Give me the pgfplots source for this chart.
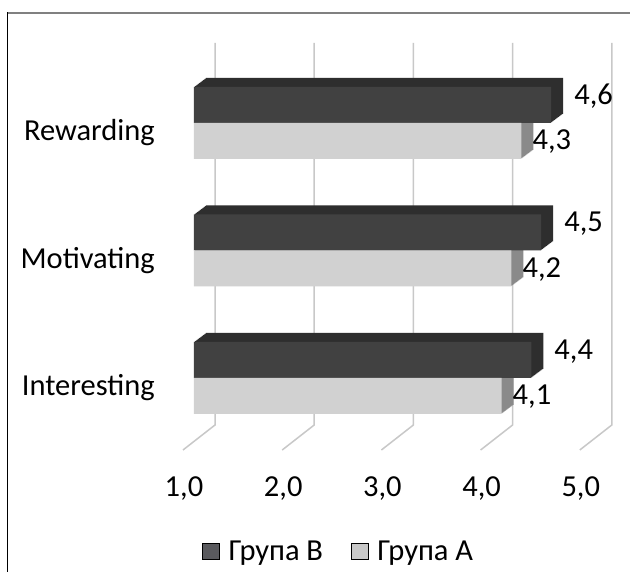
\documentclass[border=0pt]{standalone}
\usepackage{pgfplots}
\usepackage{pgfplotstable}
\pgfplotsset{compat=1.18}
\usepackage{fontspec}
\setmainfont{Carlito}
\definecolor{Bfront}{HTML}{414141}
\definecolor{Bside}{HTML}{2E2E2E}
\definecolor{Afront}{HTML}{D1D1D1}
\definecolor{Aside}{HTML}{8A8A8A}
\definecolor{gridc}{HTML}{C8C8C8}
\definecolor{legB}{HTML}{5A5A5E}
\definecolor{legA}{HTML}{C8C8C8}
\pgfplotstableread{
y v
0 4.4
1 4.5
2 4.6
}\dataB
\pgfplotstableread{
y v
0 4.1
1 4.2
2 4.3
}\dataA
\newcommand{\bigf}{\fontsize{30.5}{36}\selectfont}
\begin{document}
\begin{tikzpicture}
\useasboundingbox (0,0) rectangle (630pt,572pt);
\fill[white] (0,0) rectangle (630pt,572pt);
% frame
\draw[color={rgb,255:red,128;green,128;blue,128}, line width=1.3pt] (7pt,559pt) -- (630pt,559pt);
\draw[black, line width=1pt] (7pt,0pt) -- (7pt,559.6pt);
% back wall and floor grid
\foreach \i in {0,...,4}{
  \draw[gridc, line width=1.5pt] ({(215+99.2*\i)*1pt},529pt) -- ({(215+99.2*\i)*1pt},147pt) -- ({(183+99.2*\i)*1pt},122pt);
}
\begin{axis}[
  at={(194pt,147pt)}, anchor=south west,
  scale only axis, width=396.8pt, height=382pt,
  xmin=0, xmax=4, ymin=-0.369, ymax=2.627,
  clip=false,
  axis line style={draw=none}, tick style={draw=none}, major tick length=0pt,
  xtick={0,1,2,3,4}, xticklabels={{1,0},{2,0},{3,0},{4,0},{5,0}},
  ytick={0,1,2}, yticklabels={Interesting,Motivating,Rewarding},
  every tick label/.append style={font=\bigf},
  xticklabel style={anchor=base, inner sep=0pt, xshift=-10pt, yshift=-72pt},
  yticklabel style={anchor=base east, inner sep=0pt, xshift=-39pt, yshift=-18pt},
  xbar, bar width=36pt,
  /pgf/number format/assume math mode=true,
  legend image code/.code={\fill[#1] (0pt,-8pt) rectangle (17pt,8pt); \path (26pt,0pt);},
  legend style={at={(0.02,-0.33)}, anchor=west, draw=none, fill=none, legend columns=2,
    /tikz/every even column/.append style={column sep=28pt}, font=\bigf, inner sep=0pt,
    nodes={inner sep=0pt}},
]
% depth extrusion of the bars (group A, then group B)
\pgfplotsinvokeforeach{1,...,12}{
  \addplot[fill=Aside, draw=none, bar shift=-18pt, forget plot, xshift=#1pt, yshift=0.75*#1pt]
    table[x expr=\thisrow{v}-1, y=y]{\dataA};
}
\pgfplotsinvokeforeach{1,...,12}{
  \addplot[fill=Bside, draw=none, bar shift=18pt, forget plot, xshift=#1pt, yshift=0.75*#1pt]
    table[x expr=\thisrow{v}-1, y=y]{\dataB};
}
% front faces
\addplot[fill=Bfront, draw=none, bar shift=18pt, forget plot,
  point meta=explicit,
  nodes near coords={\pgfmathprintnumber[fixed,fixed zerofill,precision=1,use comma]{\pgfplotspointmeta}},
  every node near coord/.append style={anchor=west, inner sep=0pt, xshift=23pt, yshift=8.5pt, font=\bigf, text=black}]
  table[x expr=\thisrow{v}-1, y=y, meta=v]{\dataB};
\addplot[fill=Afront, draw=none, bar shift=-18pt, forget plot,
  point meta=explicit,
  nodes near coords={\pgfmathprintnumber[fixed,fixed zerofill,precision=1,use comma]{\pgfplotspointmeta}},
  every node near coord/.append style={anchor=west, inner sep=0pt, xshift=11pt, yshift=-1pt, font=\bigf, text=black}]
  table[x expr=\thisrow{v}-1, y=y, meta=v]{\dataA};
\addlegendimage{fill=legB}
\addlegendentry{Група B}
\addlegendimage{fill=legA}
\addlegendentry{Група A}
\end{axis}
\end{tikzpicture}
\end{document}
